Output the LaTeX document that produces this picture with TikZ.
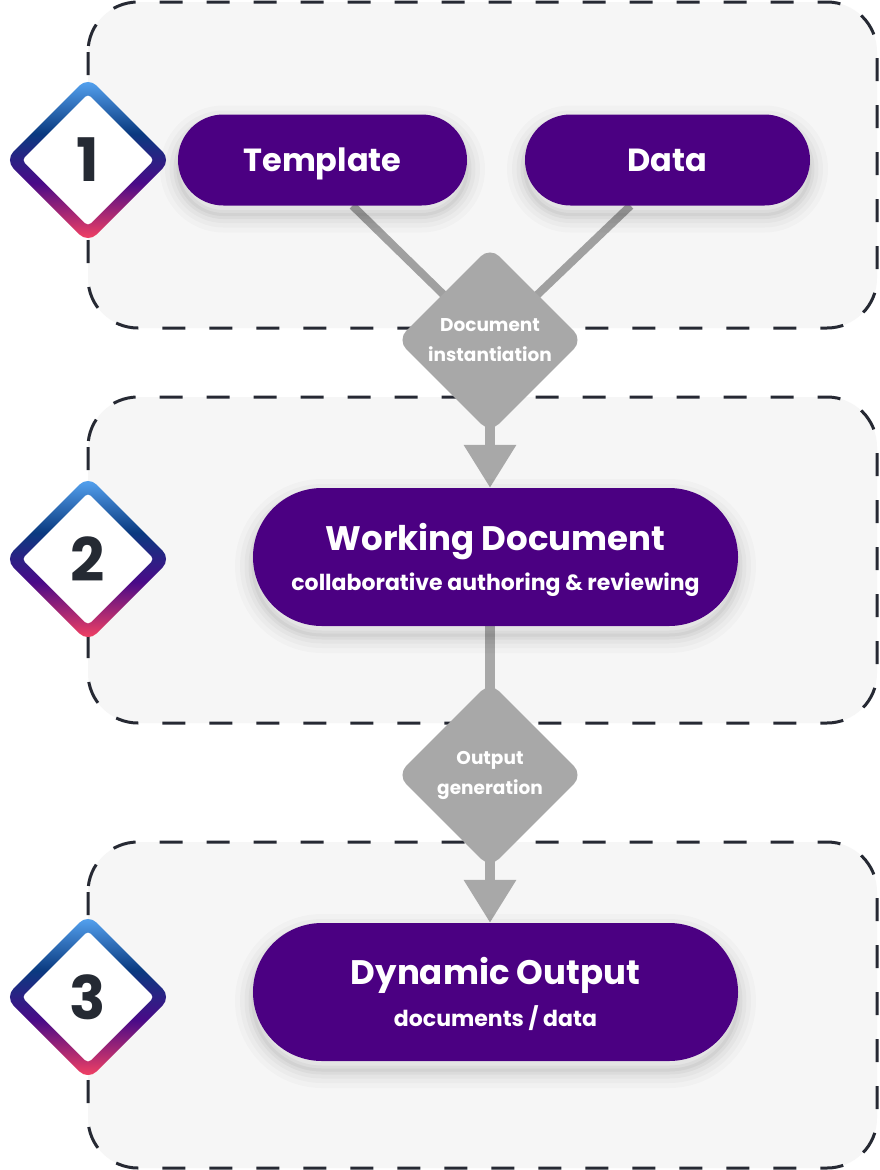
\documentclass[tikz,border=0pt]{standalone}
\usepackage{fontspec}
\setmainfont{Poppins}
\usetikzlibrary{shapes.geometric,arrows.meta}
\definecolor{pillc}{HTML}{4B0082}
\definecolor{grayc}{HTML}{A8A8A8}
\definecolor{linec}{HTML}{A0A0A0}
\definecolor{panelc}{HTML}{F6F6F6}
\definecolor{dashc}{HTML}{262933}
\definecolor{numc}{HTML}{252A33}
\definecolor{gra}{HTML}{5AAAF8}
\definecolor{grb}{HTML}{0A3A80}
\definecolor{grc}{HTML}{4A0A88}
\definecolor{grd}{HTML}{FF4560}
\pgfdeclareverticalshading{numgrad}{100bp}{color(0bp)=(grd); color(25bp)=(grd); color(43bp)=(grc); color(58bp)=(grb); color(75bp)=(gra); color(100bp)=(gra)}
\pgfdeclarelayer{panels}
\pgfdeclarelayer{links}
\pgfsetlayers{panels,links,main}
\begin{document}
\begin{tikzpicture}[x=1pt,y=-1pt,
  softshadow/.style={
    preaction={draw=black, draw opacity=0.018, line width=36pt, transform canvas={yshift=-9pt}},
    preaction={draw=black, draw opacity=0.022, line width=26pt, transform canvas={yshift=-9pt}},
    preaction={draw=black, draw opacity=0.028, line width=17pt, transform canvas={yshift=-9pt}},
    preaction={draw=black, draw opacity=0.035, line width=9pt, transform canvas={yshift=-9pt}},
    preaction={draw=black, draw opacity=0.04, line width=3pt, transform canvas={yshift=-9pt}}},
  pill/.style={fill=pillc, text=white, font=\bfseries, inner sep=0pt, align=center, softshadow},
  decide/.style={diamond, aspect=1, fill=grayc, text=white, align=center, inner sep=0pt,
    minimum width=186pt, minimum height=186pt, rounded corners=13pt,
    font=\bfseries\fontsize{18.5}{30}\selectfont},
  link/.style={draw=linec, line width=8pt},
  trunk/.style={draw=grayc, line width=10pt},
  flow/.style={draw=grayc, line width=10pt, -{Triangle[width=50pt,length=43pt]}},
  panel/.style={fill=panelc, draw=dashc, line width=3pt, dash pattern=on 23pt off 24pt, rounded corners=50pt},
  numtxt/.style={text=numc, font=\bfseries\fontsize{60}{60}\selectfont}
]
\useasboundingbox (0,0) rectangle (879,1170);
\begin{pgfonlayer}{panels}
  \fill[white] (0,0) rectangle (879,1170);
  \draw[panel] (88,2) rectangle (877,328);
  \draw[panel] (88,397) rectangle (877,723);
  \draw[panel] (88,842) rectangle (877,1168);
\end{pgfonlayer}

\foreach \n/\cy in {1/160,2/559,3/997}{
  \shade[shading=numgrad, rounded corners=12pt] (88,\cy-83) -- (171,\cy) -- (88,\cy+83) -- (5,\cy) -- cycle;
  \fill[white, rounded corners=4pt] (88,\cy-66) -- (154,\cy) -- (88,\cy+66) -- (22,\cy) -- cycle;
  \node[numtxt] (num\n) at (88,\cy) {\n};
}

\node[pill, minimum width=289pt, minimum height=91pt, rounded corners=45.5pt,
  text height=22.4pt, text depth=0pt,
  font=\bfseries\fontsize{32}{36}\selectfont] (tpl) at (322.5,160) {Template};
\node[pill, minimum width=285pt, minimum height=91pt, rounded corners=45.5pt,
  text height=22.4pt, text depth=0pt,
  font=\bfseries\fontsize{32}{36}\selectfont] (dat) at (667.5,160) {Data};

\node[decide] (dec1) at (490,340) {Document\\instantiation};

\node[pill, minimum width=485pt, minimum height=138pt, rounded corners=69pt,
  text depth=0pt,
  font=\bfseries\fontsize{22}{40}\selectfont] (wd) at (495.5,557)
  {{\fontsize{34}{40}\selectfont Working Document}\\collaborative authoring \& reviewing};

\node[decide] (dec2) at (490,775) {Output\\generation};

\node[pill, minimum width=485pt, minimum height=138pt, rounded corners=69pt,
  text depth=0pt,
  font=\bfseries\fontsize{22}{42}\selectfont] (dyn) at (495.5,992)
  {{\fontsize{34}{40}\selectfont Dynamic Output}\\documents / data};

\begin{pgfonlayer}{links}
  \draw[link] ([xshift=30pt]tpl.south) -- (dec1.center);
  \draw[link] ([xshift=-37pt]dat.south) -- (dec1.center);
  \draw[flow] (dec1.center) -- (dec1.center |- wd.north);
  \draw[trunk] (dec1.center |- wd.south) -- (dec2.center);
  \draw[flow] (dec2.center) -- (dec2.center |- dyn.north);
\end{pgfonlayer}
\end{tikzpicture}
\end{document}
